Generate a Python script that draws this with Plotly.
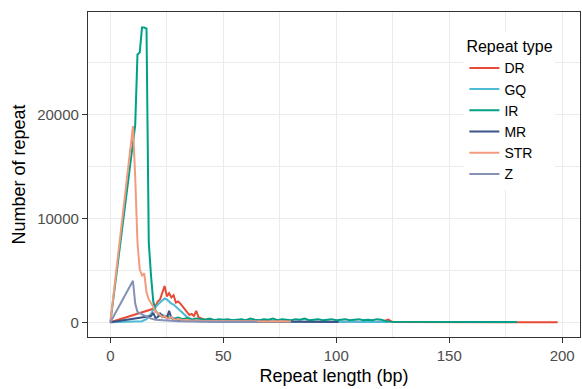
import plotly.graph_objects as go

# Repeat length (bp) and number of repeats per repeat type
DR_x = [0, 19, 20, 21, 22, 23, 24, 25, 26, 27, 28, 29, 30, 31, 32, 33, 34, 35, 36, 37, 38, 39, 40, 41, 42,
        44, 46, 48, 50, 55, 60, 65, 70, 80, 90, 100, 110, 120, 123, 125, 198]
DR_y = [0, 1300, 1600, 2000, 2200, 2900, 3500, 2500, 2800, 2400, 2600, 1900, 2000, 1800, 1500, 1200, 950,
        700, 800, 600, 1100, 500, 400, 300, 250, 300, 200, 150, 200, 150, 100, 120, 80, 60, 50, 40, 30,
        40, 250, 20, 10]

GQ_x = [0, 14, 16, 18, 19, 20, 21, 22, 23, 24, 25, 26, 27, 28, 29, 30, 31, 32, 33, 34, 35, 36, 38, 40,
        45, 50, 60, 70, 80, 90, 100, 110, 123]
GQ_y = [0, 100, 300, 800, 1200, 1500, 1700, 1900, 2100, 2300, 2200, 2000, 1800, 1700, 1500, 1300, 1100,
        900, 700, 500, 400, 300, 200, 150, 100, 80, 70, 60, 60, 50, 50, 40, 30]

IR_x = [0, 11, 12, 13, 14, 15, 16, 17, 18, 19, 20, 21, 22, 23, 24, 25, 26, 27, 28, 30, 32, 34, 36, 38,
        40, 42, 44, 46, 48, 50, 52, 54, 56, 58, 60, 62, 64, 66, 68, 70, 72, 74, 76, 78, 80, 82, 84, 86,
        88, 90, 92, 94, 96, 98, 100, 102, 104, 106, 108, 110, 112, 114, 116, 118, 120, 122, 124, 180]
IR_y = [0, 19000, 25800, 26000, 28400, 28400, 28300, 7700, 4500, 2000, 1100, 800, 600, 700, 500, 600, 400,
        500, 350, 450, 300, 400, 250, 350, 300, 250, 350, 200, 300, 250, 300, 200, 250, 300, 200, 350,
        250, 200, 300, 250, 350, 200, 300, 250, 200, 300, 250, 350, 200, 250, 300, 200, 250, 300, 200,
        250, 300, 200, 250, 300, 200, 250, 200, 300, 250, 100, 40, 20]

MR_x = [0, 18, 19, 20, 21, 22, 23, 24, 25, 26, 27, 28, 30, 35, 40, 50, 60, 70, 80, 90, 101]
MR_y = [0, 600, 900, 400, 500, 900, 500, 600, 400, 1100, 400, 300, 200, 150, 100, 80, 60, 50, 40, 30, 20]

STR_x = [0, 10, 11, 12, 13, 14, 15, 16, 17, 18, 19, 20, 21, 22, 23, 24, 25, 26, 27, 28, 29, 30, 32, 34,
         36, 38, 40, 45, 50, 55, 60, 65, 70, 75, 80]
STR_y = [0, 18900, 14000, 7700, 5100, 4500, 4700, 2900, 2200, 1900, 1500, 1000, 900, 700, 500, 600, 400,
         350, 500, 300, 250, 300, 200, 250, 150, 200, 150, 120, 100, 110, 90, 100, 80, 90, 70]

Z_x = [0, 10, 11, 12, 14, 16, 18, 20, 25, 30, 35, 40, 50, 60, 65]
Z_y = [0, 4000, 1800, 1000, 750, 550, 350, 250, 150, 100, 80, 60, 50, 40, 30]

series = [
    ("DR", DR_x, DR_y, "#E64B35"),
    ("GQ", GQ_x, GQ_y, "#4DBBD5"),
    ("IR", IR_x, IR_y, "#00A087"),
    ("MR", MR_x, MR_y, "#3C5488"),
    ("STR", STR_x, STR_y, "#F39B7F"),
    ("Z", Z_x, Z_y, "#8491B4"),
]

x_ticks = [0, 50, 100, 150, 200]
x_labels = ["0", "50", "100", "150", "200"]
y_ticks = [0, 10000, 20000]
y_labels = ["0", "10000", "20000"]

FONT = "Liberation Sans, Arial, sans-serif"

fig = go.Figure()
for name, xs, ys, col in series:
    fig.add_trace(go.Scatter(x=xs, y=ys, mode="lines", name=name,
                             line=dict(color=col, width=2)))

axis_common = dict(
    showline=True, mirror=True, linecolor="#333333", linewidth=1.2,
    ticks="outside", ticklen=5, tickwidth=1.2, tickcolor="#333333",
    tickfont=dict(family=FONT, size=15, color="#4D4D4D"),
    showgrid=True, gridcolor="#EBEBEB", gridwidth=1.3,
    zeroline=False,
)

fig.update_layout(
    width=582, height=389,
    margin=dict(l=88, r=2, t=12, b=52),
    paper_bgcolor="white", plot_bgcolor="white",
    font=dict(family=FONT, color="black"),
    xaxis=dict(range=[-9.9, 207.9], tickvals=x_ticks, ticktext=x_labels,
               title=dict(text="Repeat length (bp)", font=dict(family=FONT, size=18, color="black"),
                          standoff=6),
               minor=dict(dtick=25, tick0=0, showgrid=True, gridcolor="#EBEBEB", gridwidth=0.7, ticks=""),
               **axis_common),
    yaxis=dict(range=[-1420, 29900], tickvals=y_ticks, ticktext=y_labels,
               title=dict(text="Number of repeat", font=dict(family=FONT, size=18, color="black"),
                          standoff=6),
               minor=dict(dtick=5000, tick0=0, showgrid=True, gridcolor="#EBEBEB", gridwidth=0.7, ticks=""),
               **axis_common),
    legend=dict(
        x=0.765, y=0.94, xanchor="left", yanchor="top",
        bgcolor="white", borderwidth=0,
        title=dict(text="Repeat type", font=dict(family=FONT, size=16, color="black")),
        font=dict(family=FONT, size=14, color="black"),
        itemwidth=30,
    ),
)

fig.write_html("out.html")
